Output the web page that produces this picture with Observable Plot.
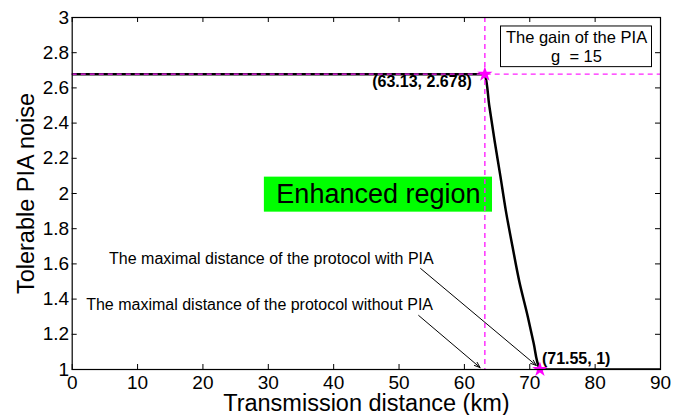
<!DOCTYPE html>
<html>
<head>
<meta charset="utf-8">
<script src="https://cdn.jsdelivr.net/npm/d3@7"></script>
<script src="https://cdn.jsdelivr.net/npm/@observablehq/plot@0.6"></script>
<style>
  html, body { margin: 0; padding: 0; background: #fff; }
  svg { font-family: "Liberation Sans", Arial, Helvetica, sans-serif; }
</style>
</head>
<body>
<div id="chart"></div>
<script>
// ---- data ----
const curveX = [0, 63.13, 63.8, 64.62, 65.5, 66.35, 67.35, 68.4, 69.7, 70.59, 71.55, 90];
const curveY = [2.678, 2.678, 2.5, 2.3, 2.1, 1.9, 1.7, 1.5, 1.3, 1.15, 1.0, 1.0];
const starX = [63.13, 71.55];
const starY = [2.678, 1.0];
const starLabels = ["(63.13, 2.678)", "(71.55, 1)"];
const xTicks = [0, 10, 20, 30, 40, 50, 60, 70, 80, 90];
const yTicks = [1, 1.2, 1.4, 1.6, 1.8, 2, 2.2, 2.4, 2.6, 2.8, 3];
const yTickLabels = ["1", "1.2", "1.4", "1.6", "1.8", "2", "2.2", "2.4", "2.6", "2.8", "3"];
const arrowText = ["The maximal distance of the protocol with PIA", "The maximal distance of the protocol without PIA"];
const arrowTextX = [55.3, 55.2];
const arrowTextY = [1.63, 1.366];
const arrowX1 = [53.3, 53.0];
const arrowY1 = [1.574, 1.307];
const arrowX2 = [71.0, 62.4];
const arrowY2 = [1.023, 1.011];
const enhancedBox = {x1: 29.4, x2: 64.3, y1: 1.894, y2: 2.093};
const gainBox = {x1: 65.6, x2: 88.7, y1: 2.718, y2: 2.949};
const gainText = ["The gain of the PIA", "g\u00a0 = 15"];
const xLabel = "Transmission distance (km)";
const yLabel = "Tolerable PIA noise";

// ---- build ----
const curve = curveX.map((x, i) => ({x, y: curveY[i]}));
const stars = starX.map((x, i) => ({x, y: starY[i], label: starLabels[i]}));
const arrows = arrowText.map((t, i) => ({t, tx: arrowTextX[i], ty: arrowTextY[i], x1: arrowX1[i], y1: arrowY1[i], x2: arrowX2[i], y2: arrowY2[i]}));
const W = 687, H = 415;
const mL = 71.7, mR = 27, mT = 17, mB = 46;
const plotH = H - mT - mB;
const plotW = W - mL - mR;
const magenta = "#ff22ff";

const chart = Plot.plot({
  width: W,
  height: H,
  marginLeft: mL,
  marginRight: mR,
  marginTop: mT,
  marginBottom: mB,
  style: {fontFamily: "'Liberation Sans', Arial, sans-serif", background: "#fff", overflow: "visible"},
  x: {domain: [0, 90]},
  y: {domain: [1, 3]},
  marks: [
    // inward ticks on all sides
    Plot.ruleX(xTicks, {x: d => d, insetTop: plotH - 5, stroke: "black", strokeWidth: 1}),
    Plot.ruleX(xTicks, {x: d => d, insetBottom: plotH - 5, stroke: "black", strokeWidth: 1}),
    Plot.ruleY(yTicks, {y: d => d, insetRight: plotW - 5, stroke: "black", strokeWidth: 1}),
    Plot.ruleY(yTicks, {y: d => d, insetLeft: plotW - 5, stroke: "black", strokeWidth: 1}),
    Plot.axisX({ticks: xTicks, tickSize: 0, tickPadding: 6, fontSize: 19, label: null, color: "black"}),
    Plot.axisY({ticks: yTicks, tickSize: 0, tickPadding: 3, fontSize: 19, label: null, color: "black",
      tickFormat: (d) => yTickLabels[yTicks.findIndex(v => Math.abs(v - d) < 1e-9)]}),
    // green box
    Plot.rect([enhancedBox], {x1: "x1", x2: "x2", y1: "y1", y2: "y2", fill: "#00ff00"}),
    Plot.text(["Enhanced region"], {x: (enhancedBox.x1 + enhancedBox.x2) / 2, y: (enhancedBox.y1 + enhancedBox.y2) / 2, text: d => d, fontSize: 27, fill: "black"}),
    // gain box
    Plot.rect([gainBox], {x1: "x1", x2: "x2", y1: "y1", y2: "y2", fill: "white", stroke: "black", strokeWidth: 1}),
    Plot.text([gainText.join("\n")], {x: (gainBox.x1 + gainBox.x2) / 2, y: (gainBox.y1 + gainBox.y2) / 2, text: d => d, fontSize: 16.5, lineHeight: 1.15, fill: "black"}),
    // curve
    Plot.line(curve, {x: "x", y: "y", stroke: "black", strokeWidth: 2.5, curve: "monotone-y", clip: true}),
    // dashed guides
    Plot.ruleX([starX[0]], {x: d => d, stroke: magenta, strokeWidth: 1.4, strokeDasharray: "5,4"}),
    Plot.ruleY([starY[0]], {y: d => d, stroke: magenta, strokeWidth: 1.4, strokeDasharray: "5,4"}),
    // arrows
    Plot.arrow(arrows, {x1: "x1", y1: "y1", x2: "x2", y2: "y2", stroke: "black", strokeWidth: 1, headLength: 9, headAngle: 40}),
    Plot.text(arrows, {x: "tx", y: "ty", text: "t", textAnchor: "end", fontSize: 16, fill: "black"}),
    // stars
    Plot.dot(stars, {x: "x", y: "y", symbol: "star", r: 4.8, fill: "#ff00ff", stroke: "none"}),
    Plot.text([stars[0]], {x: "x", y: "y", text: "label", textAnchor: "end", dx: -13, dy: 8, fontSize: 16, fontWeight: "bold", fill: "black"}),
    Plot.text([stars[1]], {x: "x", y: "y", text: "label", textAnchor: "start", dx: 2, dy: -11, fontSize: 16, fontWeight: "bold", fill: "black"}),
    // frame
    Plot.frame({stroke: "black", strokeWidth: 1.2}),
    // axis titles
    Plot.text([xLabel], {frameAnchor: "bottom", textAnchor: "middle", dy: 41, text: d => d, fontSize: 23.5, fill: "black"}),
    Plot.text([yLabel], {frameAnchor: "left", textAnchor: "middle", dx: -46, rotate: -90, text: d => d, fontSize: 23.5, fill: "black"})
  ]
});
document.getElementById("chart").appendChild(chart);
</script>
</body>
</html>
